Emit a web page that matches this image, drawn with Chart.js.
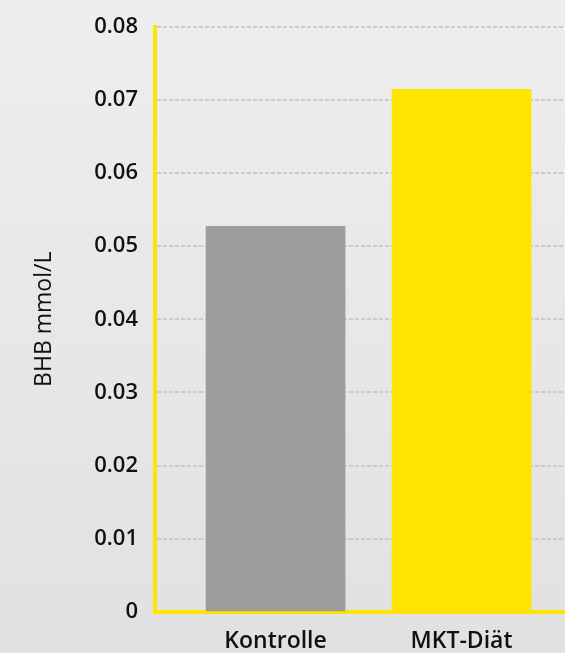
<!DOCTYPE html>
<html>
<head>
<meta charset="utf-8">
<script src="https://cdn.jsdelivr.net/npm/chart.js@4"></script>
<style>
    html, body { margin: 0; padding: 0; }
    body { width: 565px; height: 653px; background: linear-gradient(#eeeeee, #e1e1e1); overflow: hidden; }
    #wrap { width: 565px; height: 653px; }
</style>
</head>
<body>
<div id="wrap"><canvas id="bhbChart"></canvas></div>
<script>
// Data for chart
const groups = ["Kontrolle", "MKT-Diät"];
const bhbValues = [0.0527, 0.0714];
const barColors = ["#9d9d9b", "#ffe400"];
const yTicks = [0, 0.01, 0.02, 0.03, 0.04, 0.05, 0.06, 0.07, 0.08];

const fontFamily = "'Open Sans', 'DejaVu Sans', sans-serif";

// bars sit on a linear x scale so the group positions match the original
const positions = groups.map((g, i) => i + 1);

new Chart(document.getElementById("bhbChart"), {
    type: "bar",
    data: {
        datasets: [{
            label: "BHB",
            data: positions.map((p, i) => ({ x: p, y: bhbValues[i] })),
            backgroundColor: barColors,
            borderWidth: 0,
            barThickness: 139,
        }],
    },
    options: {
        responsive: true,
        maintainAspectRatio: false,
        animation: false,
        layout: { padding: { top: 26.5, right: 0, left: 0, bottom: 0 } },
        plugins: {
            legend: { display: false },
            tooltip: { enabled: false },
        },
        scales: {
            x: {
                type: "linear",
                offset: false,
                min: 0.352,
                max: 2.556,
                afterBuildTicks: (scale) => { scale.ticks = positions.map(v => ({ value: v })); },
                afterFit: (scale) => { scale.height = 41; },
                grid: { display: false, drawTicks: false, offset: false },
                border: { display: true, color: "#ffe400", width: 4 },
                ticks: {
                    padding: 16,
                    autoSkip: false,
                    maxRotation: 0,
                    color: "#111",
                    font: { family: fontFamily, size: 23, weight: "600" },
                    callback: (v) => groups[v - 1] || "",
                },
            },
            y: {
                min: 0,
                max: 0.08,
                afterBuildTicks: (scale) => { scale.ticks = yTicks.map(v => ({ value: v })); },
                afterFit: (scale) => {
                    scale.width = 155;
                    // let the layout padding decide where the top gridline sits
                    scale.paddingTop = 0;
                    scale.paddingBottom = 0;
                },
                grid: {
                    color: (ctx) => ctx.tick && ctx.tick.value === 0 ? "rgba(0,0,0,0)" : "#cbcbcb",
                    lineWidth: 2,
                    drawTicks: false,
                },
                border: { display: true, color: "#ffe400", width: 4, dash: [4, 2] },
                ticks: {
                    padding: 17,
                    color: "#111",
                    font: { family: fontFamily, size: 22, weight: "600" },
                    callback: (v) => v === 0 ? "0" : v.toFixed(2),
                },
                title: {
                    display: true,
                    text: "BHB mmol/L",
                    color: "#111",
                    padding: { top: 31, bottom: 0 },
                    font: { family: fontFamily, size: 23, weight: "normal" },
                },
            },
        },
    },
});
</script>
</body>
</html>
